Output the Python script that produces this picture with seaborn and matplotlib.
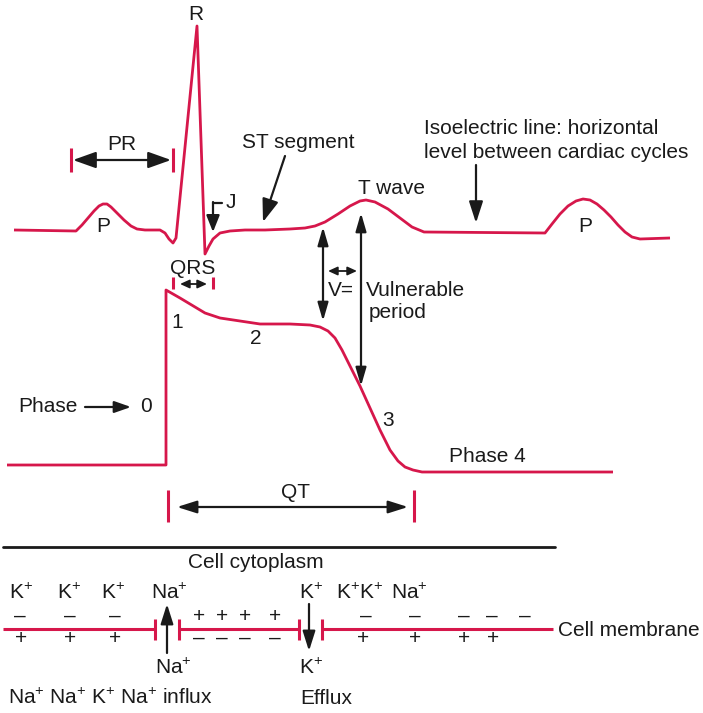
import matplotlib
matplotlib.use("Agg")
import matplotlib.pyplot as plt
import seaborn as sns

sns.set_theme(style="white")
plt.rcParams['font.family'] = ['Liberation Sans', 'DejaVu Sans']
plt.rcParams['mathtext.fontset'] = 'custom'
plt.rcParams['mathtext.rm'] = 'Liberation Sans'
plt.rcParams['mathtext.default'] = 'regular'

RED = '#d6174b'
BLK = '#1a1a1a'
FS = 15

# ---- data (image pixel coordinates) ----
ecg_x = [14, 76, 82, 88, 94, 99, 103, 107, 111, 117, 124, 131, 137, 145, 160, 165,
         169, 173, 176, 197, 205, 209, 213, 220, 230, 245, 265, 290, 305, 315, 325,
         338, 350, 360, 366, 375, 388, 400, 412, 424, 545, 552, 560, 568, 576, 583,
         590, 597, 604, 611, 618, 625, 632, 640, 670]
ecg_y = [230, 231, 225, 218, 211, 206, 204, 204, 207, 213, 220, 226, 229, 230, 230, 233,
         239, 243, 238, 26, 254, 246, 239, 233, 231, 230, 230, 229, 228, 226, 222,
         214, 206, 201, 200, 202, 209, 218, 227, 232, 233, 224, 214, 206, 201, 199,
         200, 204, 210, 217, 225, 232, 237, 239, 238]

ap_x = [7, 166, 166, 180, 195, 205, 220, 240, 260, 290, 310, 320, 328, 335, 342,
        350, 360, 370, 380, 390, 398, 405, 413, 422, 432, 445, 613]
ap_y = [465, 465, 290, 298, 307, 313, 318, 321, 324, 324, 325, 327, 331, 338, 350,
        366, 386, 408, 430, 450, 461, 467, 470, 472, 472, 472, 472]

top_ions = ["K$^{+}$", "K$^{+}$", "K$^{+}$", "Na$^{+}$", "K$^{+}$", "K$^{+}$K$^{+}$", "Na$^{+}$"]
top_ions_x = [21, 69, 113, 169, 311, 360, 409]
top_minus_x = [20, 70, 115, 366, 415, 464, 492, 525]
top_plus_x = [199, 222, 245, 275]
bot_plus_x = [21, 70, 115, 363, 415, 464, 493]
bot_minus_x = [199, 222, 245, 275]
membrane_x = [[3, 155], [179, 299], [322, 553]]

# ---- figure ----
fig = plt.figure(figsize=(7.03, 7.13), dpi=100)
ax = fig.add_axes([0, 0, 1, 1])
ax.set_xlim(0, 703)
ax.set_ylim(713, 0)
ax.axis('off')

sns.lineplot(x=ecg_x, y=ecg_y, sort=False, estimator=None, color=RED, lw=2.0, ax=ax)
sns.lineplot(x=ap_x, y=ap_y, sort=False, estimator=None, color=RED, lw=2.0, ax=ax)
for l in ax.lines:
    l.set_solid_joinstyle('round')
    l.set_solid_capstyle('butt')


def txt(x, y, s, ha='center', size=FS):
    ax.text(x, y, s, ha=ha, va='center', fontsize=size, color=BLK)


def arrow(x0, y0, x1, y1, double=False, hl=1.0, hw=0.3, lw=1.6):
    style = ('<|-|>' if double else '-|>') + f',head_length={hl},head_width={hw}'
    ax.annotate('', xy=(x1, y1), xytext=(x0, y0),
                arrowprops=dict(arrowstyle=style, mutation_scale=10, color=BLK,
                                lw=lw, shrinkA=0, shrinkB=0))


def rtick(x, y0, y1, lw=2.2):
    ax.plot([x, x], [y0, y1], color=RED, lw=lw, solid_capstyle='butt')


# ECG labels
txt(196, 14, 'R')
txt(122, 145, 'PR')
rtick(71, 148, 172)
rtick(173, 148, 172)
arrow(73, 160, 171, 160, double=True, hl=1.4, hw=0.5)
txt(103, 226, 'P')
txt(585, 226, 'P')
txt(231, 203, 'J')
ax.plot([222, 213], [203, 203], color=BLK, lw=1.6)
arrow(213, 202, 213, 232, hl=1.0, hw=0.4)
txt(298, 143, 'ST segment')
arrow(285, 156, 263, 222, hl=1.4, hw=0.5)
txt(391, 188, 'T wave')
txt(424, 128, 'Isoelectric line: horizontal', ha='left')
txt(424, 152, 'level between cardiac cycles', ha='left')
arrow(476, 165, 476, 223, hl=1.3, hw=0.42)
txt(193, 268, 'QRS')
rtick(173, 277, 289)
rtick(213, 277, 289)
arrow(180, 284, 207, 284, double=True, hl=0.55, hw=0.25, lw=1.3)

# vulnerable period
arrow(323, 227, 323, 321, double=True, hl=1.1, hw=0.32)
arrow(361, 213, 361, 386, double=True, hl=1.1, hw=0.32)
arrow(328, 271, 357, 271, double=True, hl=0.55, hw=0.25, lw=1.3)
txt(328, 290, 'V=', ha='left')
txt(366, 290, 'Vulnerable', ha='left')
txt(398, 313, 'period')

# action potential labels
txt(177, 322, '1')
txt(256, 339, '2')
txt(388, 421, '3')
txt(487, 456, 'Phase 4')
txt(48, 407, 'Phase')
arrow(85, 407, 131, 407, hl=1.0, hw=0.35)
txt(146, 407, '0')
txt(295, 492, 'QT')
rtick(168, 490, 522)
rtick(414, 490, 522)
arrow(177, 507, 408, 507, double=True, hl=1.2, hw=0.38)

# bottom panel
ax.plot([3, 555], [547, 547], color=BLK, lw=2.0)
txt(256, 563, 'Cell cytoplasm')
for s, x in zip(top_ions, top_ions_x):
    txt(x, 593, s)
for x in top_minus_x:
    txt(x, 616, '–')
for x in top_plus_x:
    txt(x, 617, '+')
for x in bot_plus_x:
    txt(x, 639, '+')
for x in bot_minus_x:
    txt(x, 638, '–')
for x0, x1 in membrane_x:
    ax.plot([x0, x1], [629, 629], color=RED, lw=2.2, solid_capstyle='butt')
rtick(155, 619, 640)
rtick(179, 619, 640)
rtick(299, 619, 640)
rtick(322, 619, 640)
txt(558, 631, 'Cell membrane', ha='left')
arrow(167, 653, 167, 604, hl=1.2, hw=0.38)
arrow(309, 604, 309, 651, hl=1.2, hw=0.38)
txt(173, 668, 'Na$^{+}$')
txt(311, 668, 'K$^{+}$')
txt(8, 698, 'Na$^{+}$ Na$^{+}$ K$^{+}$ Na$^{+}$ influx', ha='left')
txt(300, 698, 'Efflux', ha='left')

fig.savefig('out.png', dpi=100)
